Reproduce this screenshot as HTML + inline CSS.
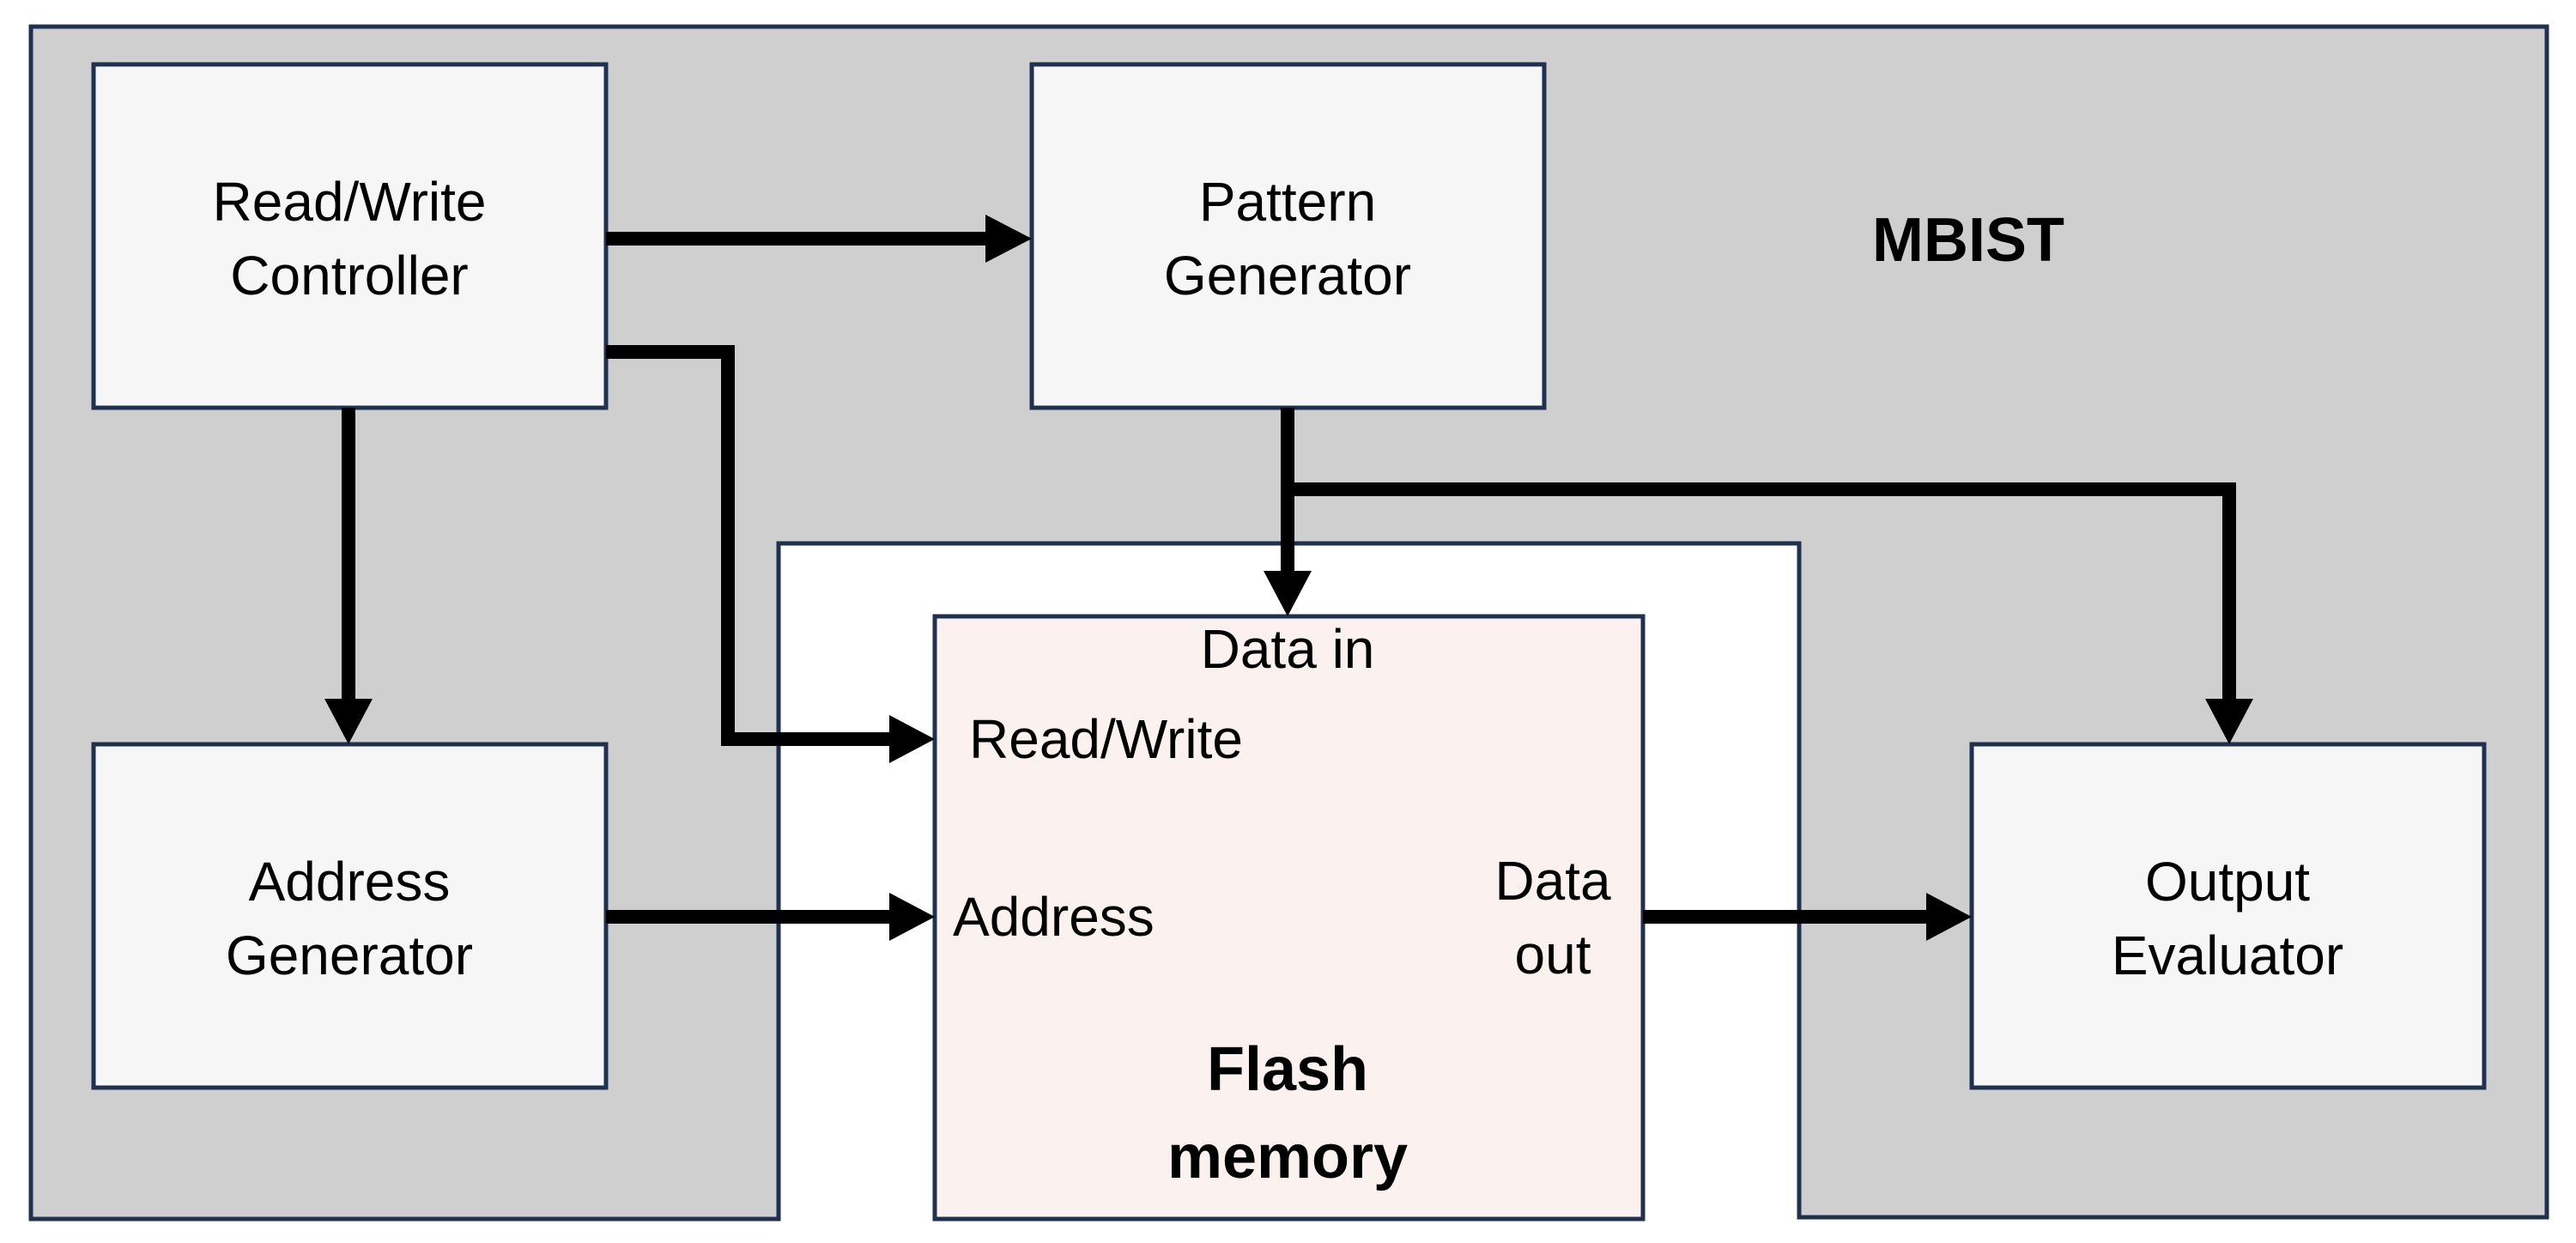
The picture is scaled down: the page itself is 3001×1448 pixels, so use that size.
<!DOCTYPE html>
<html><head><meta charset="utf-8"><style>html,body{margin:0;padding:0;background:#fff}svg{display:block}</style></head>
<body>
<svg width="3001" height="1448" viewBox="0 0 3001 1448" xmlns="http://www.w3.org/2000/svg" font-family="'Liberation Sans', sans-serif">
<polygon points="36,31 2967,31 2967,1418 2096,1418 2096,633 907,633 907,1420 36,1420" fill="#d0cfd0" stroke="#1f3050" stroke-width="5"/>
<rect x="109" y="75" width="597" height="400" fill="#f6f6f6" stroke="#1f3050" stroke-width="5"/>
<rect x="1202" y="75" width="597" height="400" fill="#f6f6f6" stroke="#1f3050" stroke-width="5"/>
<rect x="109" y="867" width="597" height="400" fill="#f6f6f6" stroke="#1f3050" stroke-width="5"/>
<rect x="2297" y="867" width="597" height="400" fill="#f6f6f6" stroke="#1f3050" stroke-width="5"/>
<rect x="1089" y="718" width="825" height="702" fill="#fbf1ef" stroke="#1f3050" stroke-width="5"/>
<g stroke="#000" stroke-width="16" fill="none" stroke-linejoin="miter">
<line x1="706" y1="278" x2="1152" y2="278"/>
<polyline points="706,410 848,410 848,861 1040,861"/>
<line x1="406" y1="475" x2="406" y2="817"/>
<line x1="706" y1="1068" x2="1040" y2="1068"/>
<line x1="1500" y1="475" x2="1500" y2="668"/>
<polyline points="1500,570 2597,570 2597,817"/>
<line x1="1914" y1="1068" x2="2247" y2="1068"/>
</g>
<g fill="#000">
<polygon points="1148,250 1202,278 1148,306"/>
<polygon points="1036,833 1089,861 1036,889"/>
<polygon points="1036,1040 1089,1068 1036,1096"/>
<polygon points="378,814 406,867 434,814"/>
<polygon points="1472,665 1500,718 1528,665"/>
<polygon points="2569,814 2597,867 2625,814"/>
<polygon points="2244,1040 2297,1068 2244,1096"/>
</g>
<g font-size="64" fill="#000" text-anchor="middle">
<text x="407" y="257">Read/Write</text>
<text x="407" y="343">Controller</text>
<text x="1500" y="257">Pattern</text>
<text x="1500" y="343">Generator</text>
<text x="407" y="1049">Address</text>
<text x="407" y="1135">Generator</text>
<text x="2595" y="1049">Output</text>
<text x="2595" y="1135">Evaluator</text>
<text x="1500" y="778">Data in</text>
<text x="1809" y="1048">Data</text>
<text x="1809" y="1134">out</text>
<text x="1129" y="883" text-anchor="start">Read/Write</text>
<text x="1110" y="1090" text-anchor="start">Address</text>
</g>
<g font-size="72" font-weight="bold" fill="#000" text-anchor="middle">
<text x="2293" y="304">MBIST</text>
<text x="1500" y="1270">Flash</text>
<text x="1500" y="1372">memory</text>
</g>
</svg>
</body></html>
